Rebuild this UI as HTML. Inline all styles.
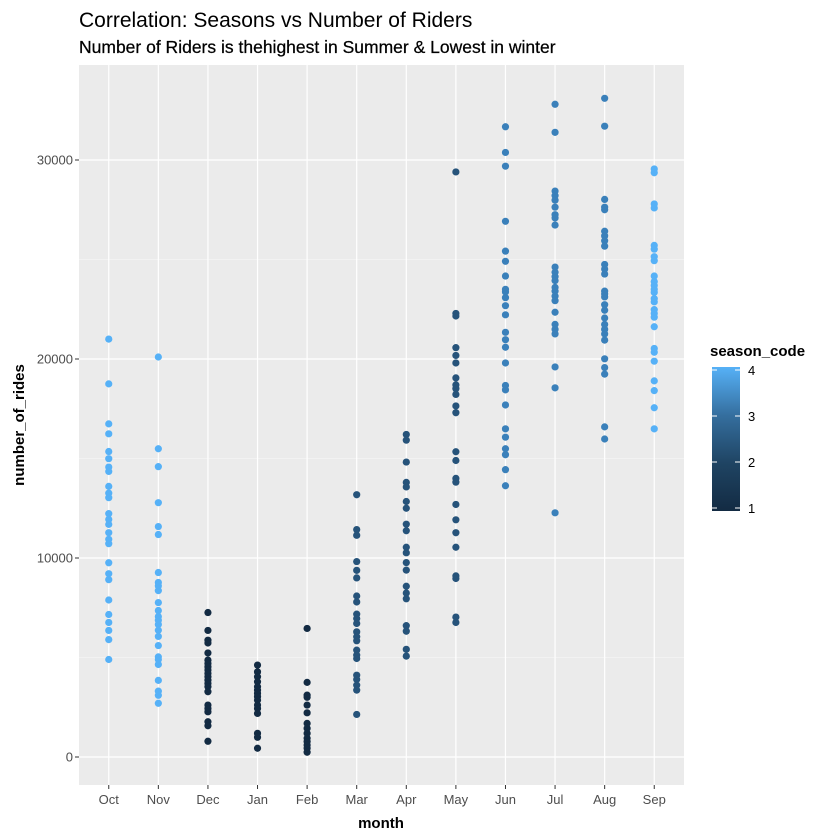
<!DOCTYPE html>
<html><head><meta charset="utf-8"><style>
body{margin:0;background:#fff;}
svg{display:block;font-family:"Liberation Sans",Arial,sans-serif;}
</style></head><body>
<svg id="chart" width="840" height="840">
<defs><linearGradient id="lg" x1="0" y1="1" x2="0" y2="0">
<stop offset="0" stop-color="#132B43"/><stop offset="0.333" stop-color="#1F4463"/><stop offset="0.667" stop-color="#356F9F"/><stop offset="1" stop-color="#56B1F7"/></linearGradient></defs>
<text x="79" y="27" font-size="21" fill="#000">Correlation: Seasons vs Number of Riders</text>
<text x="79" y="53" font-size="17.5" fill="#000" stroke="#000" stroke-width="0.25">Number of Riders is thehighest in Summer &amp; Lowest in winter</text>
<rect x="79" y="65" width="605" height="720" fill="#EBEBEB"/>
<g id="grid"></g><g id="pts"></g><g id="axes"></g>
<text x="0" y="0" transform="translate(24,425) rotate(-90)" text-anchor="middle" font-size="15" font-weight="bold">number_of_rides</text>
<text x="381" y="828" text-anchor="middle" font-size="15" font-weight="bold">month</text>
<g>
<text x="710" y="356" font-size="15" font-weight="bold">season_code</text>
<rect x="712" y="367" width="28" height="144" fill="url(#lg)"/>
<g id="legticks"></g>
</g>
</svg>
<script>
const months=["Oct","Nov","Dec","Jan","Feb","Mar","Apr","May","Jun","Jul","Aug","Sep"];
const seasonCodes=[4,4,1,1,1,2,2,2,3,3,3,4];
const yTicks=[0,10000,20000,30000];
const yTickLabels=["0","10000","20000","30000"];
const legendValues=[1,2,3,4];
const octRides=[21.0,18.75,16.74,16.24,15.35,14.99,14.57,14.35,13.6,13.26,13.03,12.23,11.94,11.69,11.27,10.94,10.72,9.76,9.21,8.91,7.89,7.16,6.76,6.36,5.9,4.9];
const novRides=[20.1,15.49,14.59,12.78,11.58,11.18,9.27,8.77,8.6,8.36,7.76,7.36,7.06,6.87,6.66,6.37,6.06,5.6,5.03,4.9,4.65,3.85,3.31,3.1,2.7];
const decRides=[7.26,6.36,5.87,5.73,5.23,4.87,4.7,4.53,4.37,4.2,4.03,3.86,3.7,3.53,3.28,2.61,2.44,2.27,1.77,1.57,0.79];
const janRides=[4.62,4.28,4.03,3.78,3.53,3.36,3.2,3.03,2.86,2.61,2.44,2.19,1.19,0.99,0.44];
const febRides=[6.46,3.75,3.11,3.0,2.61,2.22,1.69,1.44,1.19,0.94,0.77,0.6,0.44,0.24];
const marRides=[13.18,11.43,11.14,9.82,9.38,9.0,8.09,7.79,7.18,6.96,6.71,6.29,6.04,5.84,5.37,5.12,4.95,4.11,3.9,3.61,3.36,2.14];
const aprRides=[16.21,15.92,14.82,13.8,13.57,12.84,12.5,11.7,11.37,10.54,10.26,9.77,9.39,8.58,8.24,7.95,6.6,6.32,5.41,5.07];
const mayRides=[29.4,22.29,22.16,20.57,20.18,19.8,19.05,18.7,18.51,18.22,17.64,17.3,15.34,14.9,14.0,13.81,12.69,11.92,11.27,10.54,9.1,8.97,7.03,6.76];
const junRides=[31.67,30.38,29.69,26.92,25.42,24.91,24.17,23.5,23.37,23.08,22.68,22.22,21.34,20.97,20.59,19.8,18.67,18.45,17.69,16.49,16.07,15.49,15.19,14.44,13.63];
const julRides=[32.8,31.39,28.44,28.21,27.98,27.63,27.25,27.09,26.73,24.62,24.36,24.14,23.94,23.6,23.41,23.16,22.93,22.35,21.74,21.49,21.26,19.6,18.55,12.27];
const augRides=[33.1,31.7,28.02,27.63,27.5,26.42,26.19,25.94,25.67,24.75,24.52,24.27,23.41,23.27,23.12,22.73,22.45,22.06,21.74,21.49,21.26,20.95,20.01,19.57,19.24,16.59,15.98];
const sepRides=[29.55,29.36,27.79,27.59,25.71,25.52,25.14,24.94,24.17,23.89,23.7,23.5,23.35,23.03,22.87,22.48,22.29,22.1,21.62,20.53,20.34,19.89,18.9,18.41,17.55,16.49];
const seriesK=[octRides,novRides,decRides,janRides,febRides,marRides,aprRides,mayRides,junRides,julRides,augRides,sepRides];

const NS="http://www.w3.org/2000/svg";
const PL=79,PR=684,PT=65,PB=785;
const band=(PR-PL)/(months.length+0.2);
function xs(i){return PL+(0.6+i)*band;}
function ys(v){return 757-(v/30000)*597;}
function colorOf(c){const cols={1:"#132B43",2:"#26537A",3:"#3A80BA",4:"#56B1F7"};return cols[c];}
function mk(tag,attrs,parent){const e=document.createElementNS(NS,tag);for(const k in attrs)e.setAttribute(k,attrs[k]);parent.appendChild(e);return e;}
const grid=document.getElementById('grid'),pts=document.getElementById('pts'),axes=document.getElementById('axes');
for(let v=5000;v<=30000;v+=10000){const y=ys(v);const l=mk('line',{x1:PL,x2:PR,y1:y,y2:y,stroke:"#F5F5F5","stroke-width":0.8},grid);

}
yTicks.forEach((v,i)=>{const y=ys(v);
const l=mk('line',{x1:PL,x2:PR,y1:y,y2:y,stroke:"#fff","stroke-width":1.2},grid);


const t=mk('line',{x1:PL-4,x2:PL,y1:y,y2:y,stroke:"#333","stroke-width":1},axes);


const tx=mk('text',{x:PL-6,y:y+4.5,"text-anchor":"end","font-size":13,fill:"#4D4D4D"},axes);tx.textContent=yTickLabels[i];

});
months.forEach((m,i)=>{const x=xs(i);
const l=mk('line',{x1:x,x2:x,y1:PT,y2:PB,stroke:"#fff","stroke-width":1.2},grid);


const t=mk('line',{x1:x,x2:x,y1:PB,y2:PB+4,stroke:"#333","stroke-width":1},axes);


const tx=mk('text',{x:x,y:PB+19,"text-anchor":"middle","font-size":13,fill:"#4D4D4D"},axes);tx.textContent=m;


seriesK[i].forEach(k=>{const c=mk('circle',{cx:x,cy:ys(k*1000),r:3.6,fill:colorOf(seasonCodes[i])},pts);

});});
const lt=document.getElementById('legticks');
legendValues.forEach(v=>{const y=508-(v-1)*(508-370)/3;
mk('line',{x1:712,x2:717,y1:y,y2:y,stroke:"#fff","stroke-width":1},lt);
mk('line',{x1:735,x2:740,y1:y,y2:y,stroke:"#fff","stroke-width":1},lt);
const tx=mk('text',{x:748,y:y+5,"font-size":13,fill:"#000"},lt);tx.textContent=String(v);

});
</script>
</body></html>
